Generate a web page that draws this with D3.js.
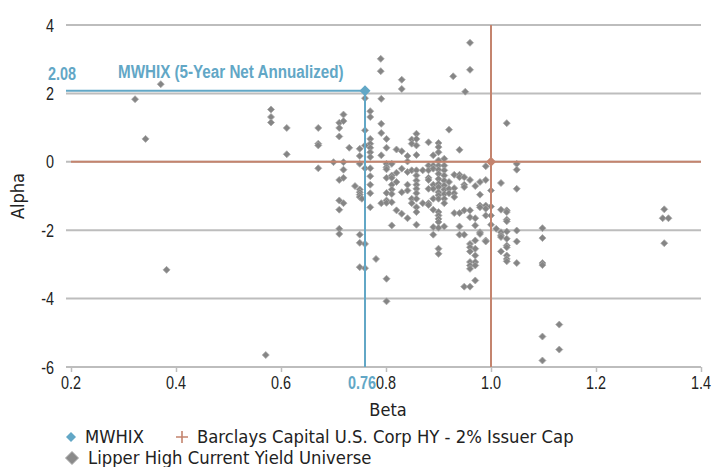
<!DOCTYPE html>
<html><head><meta charset="utf-8">
<script src="https://cdn.jsdelivr.net/npm/d3@7"></script>
<style>
body{margin:0;background:#fff;}
text{font-family:"DejaVu Sans Condensed","DejaVu Sans",sans-serif;}
.narrow{font-family:"Liberation Sans",Arial,sans-serif;}
</style></head>
<body><svg id="c" width="712" height="467"></svg>
<script>
const xTicks = [0.2,0.4,0.6,0.8,1.0,1.2,1.4];
const yTicks = [4,2,0,-2,-4,-6];
const mwhix = {name:"MWHIX", beta:0.76, alpha:2.08};
const bench = {name:"Barclays Capital U.S. Corp HY - 2% Issuer Cap", beta:1.0, alpha:0};
const lipperName = "Lipper High Current Yield Universe";
const lipperBeta = [
0.322,0.371,0.342,0.382,0.571,0.581,0.581,0.581,0.611,0.611,
0.790,0.790,0.830,0.830,0.928,0.960,0.960,0.951,0.801,1.098,1.098,
1.130,1.098,1.130,1.098,1.098,1.098,1.330,1.327,1.338,1.330,
0.760,0.791,
0.671,0.671,0.671,0.671,
0.700,
0.711,0.711,0.711,0.711,0.711,0.711,0.711,0.711,
0.719,0.719,0.719,0.719,0.719,0.719,
0.730,0.741,
0.750,0.750,0.750,0.750,0.750,0.750,0.750,0.750,0.750,0.750,0.754,
0.760,0.760,0.760,0.760,0.760,
0.770,0.770,0.770,0.770,0.770,0.770,0.770,0.770,0.770,0.770,0.770,0.770,
0.781,
0.791,0.791,0.791,0.791,
0.801,0.801,0.801,0.801,0.801,0.801,0.801,0.801,0.801,0.801,
0.811,0.811,0.811,0.811,0.811,0.811,0.811,0.811,
0.820,0.820,0.820,0.820,
0.830,0.830,0.830,0.830,
0.841,0.841,0.841,0.841,0.841,0.841,
0.849,0.849,0.849,0.849,0.849,
0.858,0.858,0.858,0.858,0.858,0.858,0.858,0.858,0.858,0.858,0.858,0.858,0.858,0.858,
0.870,0.870,
0.881,0.881,0.881,0.881,0.881,0.881,0.881,0.881,
0.890,0.890,0.890,0.890,0.890,0.890,0.890,0.890,0.890,
0.900,0.900,0.900,0.900,0.900,0.900,0.900,0.900,0.900,0.900,0.900,0.900,0.900,0.900,0.900,0.900,0.900,0.900,0.900,0.900,
0.911,0.911,0.911,0.911,0.911,0.911,0.911,0.911,0.911,0.911,0.911,
0.920,0.920,0.920,0.920,
0.930,0.930,0.930,0.930,0.930,
0.940,0.940,0.940,0.940,0.940,0.940,
0.949,0.949,0.949,0.949,0.949,0.949,
0.960,0.960,0.960,0.960,0.960,0.960,0.960,0.960,0.960,0.960,
0.970,0.970,0.970,0.970,0.970,0.970,0.970,0.970,0.970,
0.979,0.979,0.979,0.979,0.979,0.979,
0.990,0.990,0.990,0.990,0.990,0.990,0.990,
1.000,1.000,1.000,1.000,
1.010,
1.019,1.019,1.019,1.019,1.019,1.019,
1.030,1.030,1.030,1.030,1.030,1.030,1.030,1.030,1.030,1.030,1.030,1.030,
1.049,1.049,1.049,1.049,1.049,1.049
];
const lipperAlpha = [
1.83,2.27,0.67,-3.16,-5.65,1.53,1.31,1.15,0.99,0.22,
3.01,2.65,2.40,2.13,2.50,3.48,2.69,2.05,-4.08,-2.96,-3.02,
-4.76,-5.11,-5.49,-5.81,-1.94,-2.23,-1.39,-1.65,-1.65,-2.38,
1.86,1.84,
0.99,0.53,0.48,-0.19,
-0.01,
1.14,0.99,0.74,-0.53,-1.13,-1.40,-1.96,-2.11,
1.38,1.19,-0.01,-0.23,-0.47,-1.21,
0.41,-0.71,
0.38,0.17,-0.06,-0.81,-0.89,-0.96,-1.03,-2.13,-2.37,-3.08,-1.08,
0.92,0.48,-0.19,-2.40,-3.11,
1.48,1.31,0.67,0.53,0.41,0.28,0.14,-0.19,-0.42,-0.67,-0.92,-1.33,
-2.84,
1.11,0.84,0.19,-1.21,
0.67,0.41,-0.06,-0.16,-0.22,-0.47,-0.91,-1.13,-1.20,-3.42,
-0.06,-0.40,-0.47,-0.67,-0.81,-0.94,-1.18,-1.86,
0.36,-0.32,-0.59,-1.42,
0.31,-0.20,-0.89,-1.52,
0.17,0.01,-0.30,-0.67,-0.84,-1.65,
0.65,0.53,-0.25,-1.08,-1.21,
0.82,0.67,0.48,0.20,-0.25,-0.40,-0.55,-0.67,-0.79,-0.92,-1.08,-1.33,-1.47,-1.84,
-0.25,-1.21,
0.57,-0.11,-0.25,-0.47,-0.53,-0.79,-1.21,-1.26,
0.19,-0.11,-0.20,-0.67,-0.79,-1.08,-1.40,-1.91,-2.13,
0.55,0.43,0.28,0.04,-0.11,-0.23,-0.35,-0.50,-0.64,-0.74,-0.89,-0.98,-1.08,-1.47,-1.57,-1.67,-1.76,-1.93,-2.54,-2.69,
0.09,-0.11,-0.25,-0.40,-0.55,-0.69,-0.81,-0.94,-1.08,-1.21,-1.89,
0.94,-0.59,-0.79,-0.92,
-0.38,-0.77,-0.92,-1.03,-1.50,
0.35,-0.38,-0.45,-1.50,-1.89,-2.13,
-0.45,-0.67,-0.74,-1.42,-2.13,-3.65,
-0.53,-1.42,-1.62,-2.40,-2.50,-2.62,-2.93,-3.03,-3.13,-3.65,
-0.71,-1.65,-1.86,-2.30,-2.54,-2.74,-2.93,-3.03,-3.47,
-0.59,-0.96,-1.28,-1.33,-2.06,-2.11,
-0.13,-0.53,-1.28,-1.37,-1.57,-2.30,-2.33,
-0.84,-1.31,-1.57,-1.84,
-1.96,
-0.62,-1.40,-2.06,-2.15,-2.20,-2.62,
1.13,-1.42,-1.47,-1.69,-1.74,-2.04,-2.25,-2.45,-2.50,-2.74,-2.84,-2.91,
-0.06,-0.23,-0.79,-2.01,-2.33,-2.96
];

const BLUE = "#62a7c6", ORANGE = "#c4846e", GRID = "#bdbdbd", PT = "#858585";
const SX = 0.8; // horizontal squeeze to imitate a narrow face
const svg = d3.select("#c");
const x = d3.scaleLinear().domain([0.2,1.4]).range([71,701]);
const y = d3.scaleLinear().domain([-6,4]).range([367,25]);
const diamond = r => `M0,${-r}L${r},0L0,${r}L${-r},0Z`;
function ntext(parent, ax, ay, str, opts) {
  const g = parent.append("g").attr("transform",`translate(${ax},${ay}) scale(${SX},1)`);
  return g.append("text").attr("class","narrow").attr("x",0).attr("y",0)
    .attr("text-anchor",opts.anchor||"start").attr("font-size",opts.size)
    .attr("font-weight",opts.weight||"normal").attr("fill",opts.fill||"#222").text(str);
}

// horizontal gridlines
svg.append("g").selectAll("line").data(yTicks.filter(d=>d!==-6)).join("line")
  .attr("x1",66).attr("x2",701).attr("y1",d=>y(d)).attr("y2",d=>y(d))
  .attr("stroke",GRID).attr("stroke-width",2);
// x axis
const xa = svg.append("g").attr("transform",`translate(0,${y(-6)})`)
  .call(d3.axisBottom(x).tickValues(xTicks).tickFormat("").tickSize(5).tickSizeOuter(0));
xa.select(".domain").attr("stroke",GRID).attr("stroke-width",2).attr("d",`M66,0H701`);
xa.selectAll(".tick line").attr("stroke",GRID).attr("stroke-width",1.5);
const fmt1 = d3.format(".1f");
xTicks.forEach(v => ntext(svg, x(v), y(-6)+22, fmt1(v), {anchor:"middle", size:18}));
yTicks.forEach(v => ntext(svg, 54, y(v)+6.5, String(v), {anchor:"end", size:18}));

// axis titles
svg.append("text").attr("transform",`translate(24,${(y(4)+y(-6))/2}) rotate(-90)`)
  .attr("text-anchor","middle").attr("font-size",18).attr("fill","#222").text("Alpha");
svg.append("text").attr("x",388).attr("y",416).attr("text-anchor","middle")
  .attr("font-size",18).attr("fill","#222").text("Beta");

// Lipper points
const pts = lipperBeta.map((b,i)=>({b, a:lipperAlpha[i]}));
svg.append("g").selectAll("path").data(pts).join("path")
  .attr("d",diamond(3.5)).attr("transform",d=>`translate(${x(d.b)},${y(d.a)})`)
  .attr("fill",PT).attr("stroke","#a8a8a8").attr("stroke-width",0.8);

// benchmark lines
svg.append("line").attr("x1",x(0.2)).attr("x2",x(1.4)).attr("y1",y(bench.alpha)).attr("y2",y(bench.alpha))
  .attr("stroke",ORANGE).attr("stroke-width",2);
svg.append("line").attr("x1",x(bench.beta)).attr("x2",x(bench.beta)).attr("y1",y(4)).attr("y2",y(-6))
  .attr("stroke",ORANGE).attr("stroke-width",2);
svg.append("path").attr("d",diamond(5)).attr("transform",`translate(${x(bench.beta)},${y(bench.alpha)})`)
  .attr("fill",ORANGE);

// MWHIX lines
svg.append("line").attr("x1",66).attr("x2",x(mwhix.beta)).attr("y1",y(mwhix.alpha)).attr("y2",y(mwhix.alpha))
  .attr("stroke",BLUE).attr("stroke-width",2);
svg.append("line").attr("x1",x(mwhix.beta)).attr("x2",x(mwhix.beta)).attr("y1",y(mwhix.alpha)).attr("y2",y(-6))
  .attr("stroke",BLUE).attr("stroke-width",2);
svg.append("path").attr("d",diamond(5.5)).attr("transform",`translate(${x(mwhix.beta)},${y(mwhix.alpha)})`)
  .attr("fill",BLUE);
ntext(svg, 62, y(mwhix.alpha)-11, d3.format(".2f")(mwhix.alpha), {anchor:"middle", size:18, weight:"bold", fill:BLUE});
ntext(svg, 118, y(mwhix.alpha)-13, "MWHIX (5-Year Net Annualized)", {size:19, weight:"bold", fill:BLUE});
ntext(svg, 376, y(-6)+22, d3.format(".2f")(mwhix.beta), {anchor:"end", size:18, weight:"bold", fill:BLUE});

// legend
const lg = svg.append("g");
lg.append("path").attr("d",diamond(5)).attr("transform","translate(71,437)").attr("fill",BLUE);
lg.append("text").attr("x",85).attr("y",443).attr("font-size",18.3).attr("fill","#222").text(mwhix.name);
lg.append("path").attr("d","M-6,0H6M0,-6V6").attr("transform","translate(182,437)").attr("stroke",ORANGE).attr("stroke-width",1.6);
lg.append("text").attr("x",197).attr("y",443).attr("font-size",18.3).attr("fill","#222").text(bench.name);
lg.append("path").attr("d",diamond(6.5)).attr("transform","translate(72,458)").attr("fill","#8a8a8a").attr("stroke","#aaa").attr("stroke-width",1);
lg.append("text").attr("x",88).attr("y",464).attr("font-size",18.3).attr("fill","#222").text(lipperName);
</script></body></html>
